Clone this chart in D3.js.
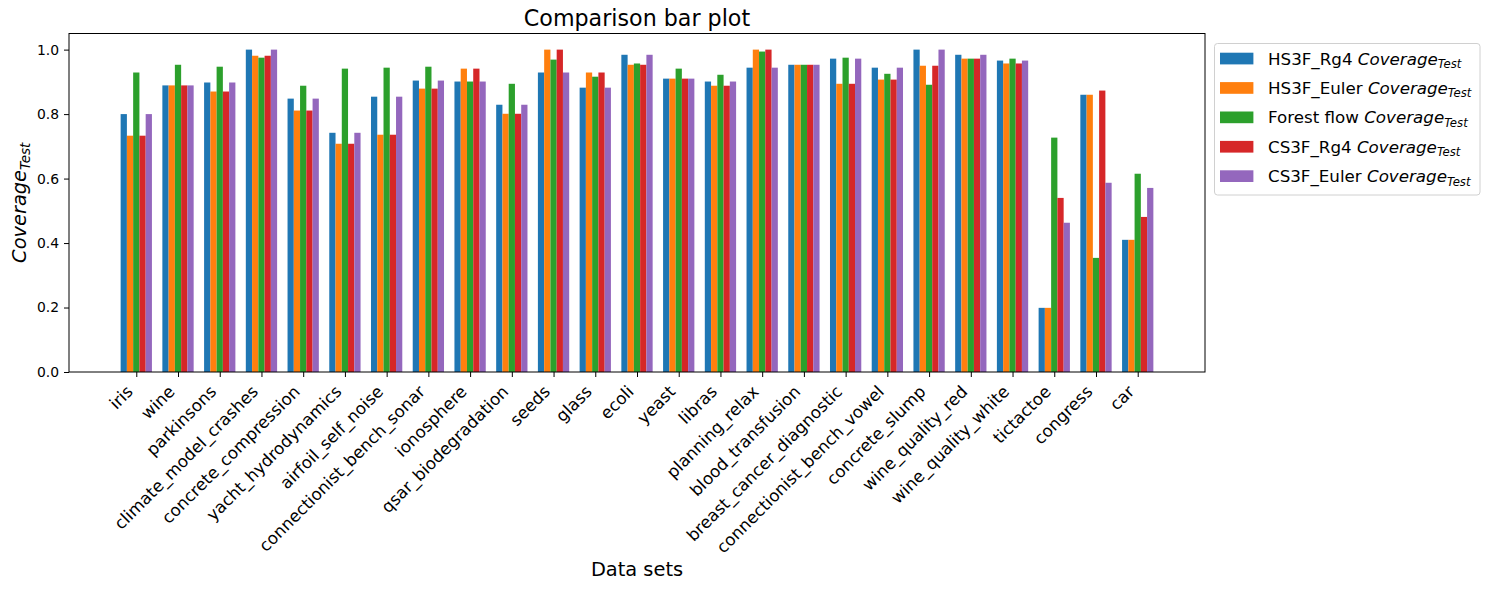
<!DOCTYPE html>
<html>
<head>
<meta charset="utf-8">
<script src="https://cdn.jsdelivr.net/npm/d3@7"></script>
<style>
  body { margin: 0; background: #fff; }
  text { font-family: "DejaVu Sans", sans-serif; fill: #000; }
</style>
</head>
<body>
<div id="chart"></div>
<script>
// data sets along the x axis
const datasets = ["iris", "wine", "parkinsons", "climate_model_crashes", "concrete_compression",
    "yacht_hydrodynamics", "airfoil_self_noise", "connectionist_bench_sonar", "ionosphere",
    "qsar_biodegradation", "seeds", "glass", "ecoli", "yeast", "libras", "planning_relax",
    "blood_transfusion", "breast_cancer_diagnostic", "connectionist_bench_vowel", "concrete_slump",
    "wine_quality_red", "wine_quality_white", "tictactoe", "congress", "car"];

// series names (legend prefix) and colours
const seriesNames = ["HS3F_Rg4", "HS3F_Euler", "Forest flow", "CS3F_Rg4", "CS3F_Euler"];
const seriesColors = ["#1f77b4", "#ff7f0e", "#2ca02c", "#d62728", "#9467bd"];

// coverage values, one array per series
const hs3fRg4 = [0.800, 0.889, 0.898, 1.000, 0.848, 0.742, 0.854, 0.904, 0.901, 0.829, 0.929, 0.882, 0.984,
    0.910, 0.901, 0.944, 0.953, 0.972, 0.944, 1.000, 0.984, 0.966, 0.199, 0.860, 0.410];
const hs3fEuler = [0.733, 0.889, 0.870, 0.981, 0.811, 0.708, 0.736, 0.879, 0.941, 0.801, 1.000, 0.929, 0.953,
    0.910, 0.888, 1.000, 0.953, 0.894, 0.907, 0.950, 0.972, 0.957, 0.199, 0.860, 0.410];
const forestFlow = [0.929, 0.953, 0.947, 0.975, 0.888, 0.941, 0.944, 0.947, 0.901, 0.894, 0.969, 0.916, 0.957,
    0.941, 0.922, 0.994, 0.953, 0.975, 0.925, 0.891, 0.972, 0.972, 0.727, 0.354, 0.615];
const cs3fRg4 = [0.733, 0.889, 0.870, 0.981, 0.811, 0.708, 0.736, 0.879, 0.941, 0.801, 1.000, 0.929, 0.953,
    0.910, 0.888, 1.000, 0.953, 0.894, 0.907, 0.950, 0.972, 0.957, 0.540, 0.873, 0.481];
const cs3fEuler = [0.800, 0.889, 0.898, 1.000, 0.848, 0.742, 0.854, 0.904, 0.901, 0.829, 0.929, 0.882, 0.984,
    0.910, 0.901, 0.944, 0.953, 0.972, 0.944, 1.000, 0.984, 0.966, 0.463, 0.587, 0.571];

const yTicks = [0.0, 0.2, 0.4, 0.6, 0.8, 1.0];

const series = [hs3fRg4, hs3fEuler, forestFlow, cs3fRg4, cs3fEuler];

// Dimensions
const width = 1489, height = 590;
const plot = { left: 69, right: 1205, top: 33.5, bottom: 372 };
const barWidth = 0.15;

const svg = d3.select("#chart").append("svg")
    .attr("width", width)
    .attr("height", height);

// Scales
const x = d3.scaleLinear()
    .domain([-0.375 - 1.2375, 24.375 + 1.2375])
    .range([plot.left, plot.right]);
const y = d3.scaleLinear()
    .domain([0, 1.05])
    .range([plot.bottom, plot.top]);

// Bars
series.forEach((vals, j) => {
    svg.append("g")
        .attr("fill", seriesColors[j])
        .selectAll("rect")
        .data(vals)
        .join("rect")
        .attr("x", (d, i) => x(i + (j - 2) * barWidth - barWidth / 2))
        .attr("width", x(barWidth) - x(0))
        .attr("y", d => y(d))
        .attr("height", d => y(0) - y(d));
});

// Y axis
const yAxis = svg.append("g")
    .attr("transform", `translate(${plot.left},0)`)
    .call(d3.axisLeft(y).tickValues(yTicks).tickFormat(d3.format(".1f")).tickSize(5).tickPadding(5));
yAxis.select(".domain").remove();
yAxis.selectAll("text").attr("font-size", 13.9).attr("font-family", "DejaVu Sans");
yAxis.selectAll("line").attr("stroke", "#000");

// X axis with rotated labels
const xAxis = svg.append("g")
    .attr("transform", `translate(0,${plot.bottom})`)
    .call(d3.axisBottom(x).tickValues(d3.range(datasets.length)).tickFormat(i => datasets[i]).tickSize(5));
xAxis.select(".domain").remove();
xAxis.selectAll("line").attr("stroke", "#000");
xAxis.selectAll("text")
    .attr("font-size", 16.7)
    .attr("font-family", "DejaVu Sans")
    .attr("text-anchor", "end")
    .attr("y", 0)
    .attr("dy", "-0.24em")
    .attr("transform", "translate(0,23.5) rotate(-45)");

// Frame
svg.append("rect")
    .attr("x", plot.left)
    .attr("y", plot.top)
    .attr("width", plot.right - plot.left)
    .attr("height", plot.bottom - plot.top)
    .attr("fill", "none")
    .attr("stroke", "#000")
    .attr("stroke-width", 1);

// Title and axis labels
svg.append("text")
    .attr("x", (plot.left + plot.right) / 2)
    .attr("y", 26)
    .attr("text-anchor", "middle")
    .attr("font-size", 22.2)
    .text("Comparison bar plot");

svg.append("text")
    .attr("x", (plot.left + plot.right) / 2)
    .attr("y", 576)
    .attr("text-anchor", "middle")
    .attr("font-size", 19.4)
    .text("Data sets");

const yLab = svg.append("text")
    .attr("transform", `translate(26,${(plot.top + plot.bottom) / 2}) rotate(-90)`)
    .attr("text-anchor", "middle")
    .attr("font-size", 19.4);
yLab.append("tspan").attr("font-style", "italic").text("Coverage");
yLab.append("tspan").attr("font-style", "italic").attr("font-size", "70%").attr("dy", "0.3em").text("Test");

// Legend
const legend = svg.append("g");
legend.append("rect")
    .attr("x", 1214.5)
    .attr("y", 43.5)
    .attr("width", 265.5)
    .attr("height", 151.5)
    .attr("rx", 3)
    .attr("fill", "#fff")
    .attr("fill-opacity", 0.8)
    .attr("stroke", "#d0d0d0");

seriesNames.forEach((name, j) => {
    const cy = 58.5 + j * 29.4;
    legend.append("rect")
        .attr("x", 1220)
        .attr("y", cy - 5.8)
        .attr("width", 33.4)
        .attr("height", 11.7)
        .attr("fill", seriesColors[j]);
    const t = legend.append("text")
        .attr("x", 1268)
        .attr("y", cy + 6)
        .attr("font-size", 16.7);
    t.append("tspan").text(name + " ");
    t.append("tspan").attr("font-style", "italic").text("Coverage");
    t.append("tspan").attr("font-style", "italic").attr("font-size", "70%").attr("dy", "0.3em").text("Test");
});
</script>
</body>
</html>
